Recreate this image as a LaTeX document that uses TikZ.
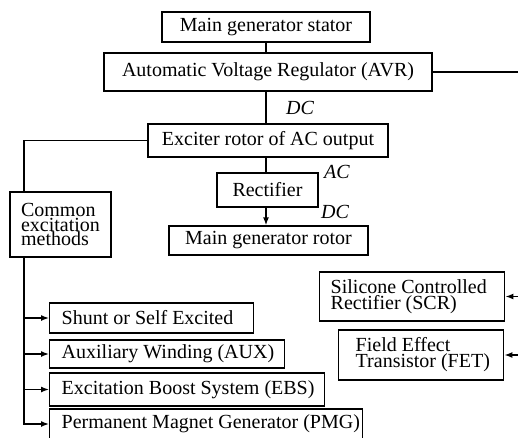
\documentclass[tikz,border=0pt]{standalone}
\usepackage{fontspec}
\setmainfont{Liberation Serif}
\usetikzlibrary{arrows.meta}
% fixed-width, left-aligned line of text
\newcommand\fixline[2]{\makebox[#1][l]{#2}}
\begin{document}
\begin{tikzpicture}[x=1pt,y=-1pt,
  box/.style={draw, line width=1.4pt, inner sep=0pt, font=\fontsize{20}{16}\selectfont},
  lbl/.style={font=\fontsize{20}{16}\selectfont\itshape, inner sep=0pt},
  wire/.style={line width=1.4pt},
  arr/.style={line width=1.4pt, -{Latex[length=8pt,width=6pt]}}]
\useasboundingbox (0,0) rectangle (518,437);
\clip (0,0) rectangle (518,437);

% main chain
\node[box, minimum width=208, minimum height=30] (stator)  at (266,27)    {Main generator stator};
\node[box, minimum width=328, minimum height=38] (avr)     at (268,72)    {Automatic Voltage Regulator (AVR)};
\node[box, minimum width=240, minimum height=33] (exciter) at (268,140.5) {Exciter rotor of AC output};
\node[box, minimum width=101, minimum height=34] (rect)    at (267.5,190) {Rectifier};
\node[box, minimum width=199, minimum height=29] (rotor)   at (268.5,240.5) {Main generator rotor};

\node[lbl] (dc1) at (300,108) {DC};
\node[lbl] (ac)  at (337,172) {AC};
\node[lbl] (dc2) at (335,212) {DC};

% excitation methods
\node[box, minimum width=101, minimum height=65, align=left,
      font=\fontsize{20}{14.5}\selectfont] (common) at (60.5,224.5)
      {Common\\excitation\\methods};
\node[box, anchor=west, inner xsep=12pt, minimum height=30] (shunt) at (49,318)
      {\fixline{180pt}{Shunt or Self Excited}};
\node[box, anchor=west, inner xsep=12pt, minimum height=28] (aux) at (49,354)
      {\fixline{211pt}{Auxiliary Winding (AUX)}};
\node[box, anchor=west, inner xsep=12pt, minimum height=33] (ebs) at (49,389.5)
      {\fixline{251pt}{Excitation Boost System (EBS)}};
\node[box, anchor=west, inner xsep=12pt, minimum height=30] (pmg) at (49,424)
      {\fixline{289pt}{Permanent Magnet Generator (PMG)}};

% switching devices
\node[box, anchor=west, inner xsep=11pt, minimum height=49, align=left] (scr) at (319,296.5)
      {\fixline{163pt}{Silicone Controlled}\\\fixline{163pt}{Rectifier (SCR)}};
\node[box, anchor=west, inner xsep=17pt, minimum height=50, align=left] (fet) at (338,355)
      {\fixline{131pt}{Field Effect}\\\fixline{131pt}{Transistor (FET)}};

\coordinate (bus) at (24,0);
\coordinate (rim) at (518,0);

% connectors
\draw[wire] (stator.south) -- (stator.south |- avr.north);
\draw[wire] (avr.south -| stator.south) -- (exciter.north -| stator.south);
\draw[wire] (avr.east) -- (avr.east -| rim);
\draw[wire] (exciter.south -| stator.south) -- (rect.north -| stator.south);
\draw[arr]  (rect.south -| stator.south) -- (rotor.north -| stator.south);

\draw[wire] (exciter.west) -| (bus |- common.north);
\draw[arr]  (bus |- common.south) |- (pmg.west);
\draw[arr]  (bus |- shunt.west) -- (shunt.west);
\draw[arr]  (bus |- aux.west) -- (aux.west);
\draw[arr]  (bus |- ebs.west) -- (ebs.west);

\draw[arr] (scr.east -| rim) -- (scr.east);
\draw[arr] (fet.east -| rim) -- (fet.east);
\end{tikzpicture}
\end{document}
